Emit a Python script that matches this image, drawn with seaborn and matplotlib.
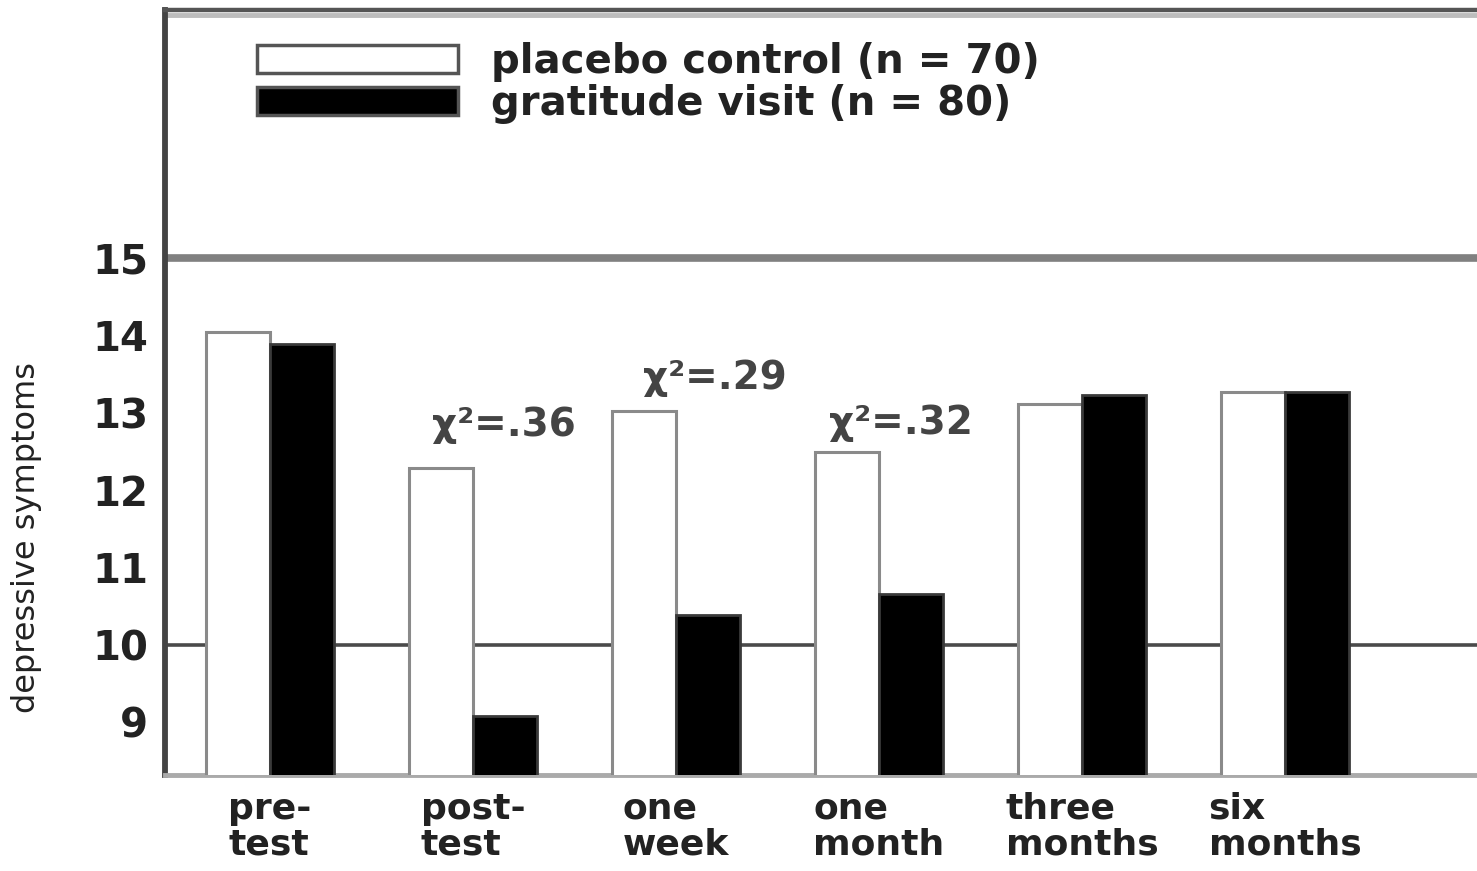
import matplotlib
matplotlib.use("Agg")
import matplotlib.pyplot as plt
import seaborn as sns
import pandas as pd
from matplotlib.patches import Patch

# ---- data ----
timepoints = ["pre-\ntest", "post-\ntest", "one\nweek", "one\nmonth", "three\nmonths", "six\nmonths"]
groups = ["placebo control (n = 70)", "gratitude visit (n = 80)"]
placebo = [14.04, 12.29, 13.02, 12.49, 13.11, 13.27]
gratitude = [13.88, 9.08, 10.39, 10.66, 13.23, 13.27]
annot_text = ["χ²=.36", "χ²=.29", "χ²=.32"]
annot_x = [1.15, 2.19, 3.11]
annot_y = [12.84, 13.45, 12.87]
yticks = [9, 10, 11, 12, 13, 14, 15]
gridlines = [10, 15]

df = pd.DataFrame({
    "time": timepoints * 2,
    "group": [groups[0]] * len(timepoints) + [groups[1]] * len(timepoints),
    "value": placebo + gratitude,
})

sns.set_theme(style="white")
plt.rcParams['font.family'] = ['DejaVu Sans']

fig = plt.figure(figsize=(14.77, 8.71), dpi=100)
ax = fig.add_axes([165/1477, (871-775)/871, (1477-165)/1477, (775-10)/871])

sns.barplot(data=df, x="time", y="value", hue="group", order=timepoints,
            hue_order=groups, palette=["white", "black"], width=0.63, gap=0,
            saturation=1, ax=ax, legend=False, zorder=3, errorbar=None)

# bar edges
n = len(timepoints)
for i, p in enumerate(ax.patches):
    if i < n:
        p.set_edgecolor("#8a8a8a")
        p.set_linewidth(2.2)
    else:
        p.set_edgecolor("#3a3a3a")
        p.set_linewidth(2.0)

ax.set_xlim(-0.517, 5.946)
ax.set_ylim(8.32, 18.2)
ax.set_yticks(yticks)
ax.set_yticklabels([str(t) for t in yticks], fontsize=29, fontweight="bold", color="#222222")
ax.tick_params(axis="y", length=0, pad=12)
ax.tick_params(axis="x", length=0, pad=12)
for lbl in ax.get_xticklabels():
    lbl.set_fontsize(26)
    lbl.set_fontweight("bold")
    lbl.set_color("#222222")
    lbl.set_multialignment("left")
    lbl.set_linespacing(1.08)

# horizontal reference lines
ax.axhline(gridlines[0], color="#4a4a4a", lw=2.6, zorder=1)
ax.axhline(gridlines[1], color="#808080", lw=5.5, zorder=1)

# spines
ax.spines["right"].set_visible(False)
ax.spines["left"].set_color("#444444")
ax.spines["left"].set_linewidth(4.2)
ax.spines["bottom"].set_color("#aaaaaa")
ax.spines["bottom"].set_linewidth(3.5)
ax.spines["top"].set_color("#555555")
ax.spines["top"].set_linewidth(3.2)
ax.plot([0, 1], [0.993, 0.993], transform=ax.transAxes, color="#bdbdbd", lw=3.5, zorder=2)

ax.set_xlabel("")
ax.set_ylabel("depressive symptoms", fontsize=23,
              family=["DejaVu Sans Condensed", "Liberation Sans Narrow", "DejaVu Sans"],
              color="#222222")
ax.yaxis.set_label_coords(-0.094, 0.31)

for t, x, y in zip(annot_text, annot_x, annot_y):
    ax.text(x, y, t, fontsize=28, fontweight="bold", ha="center", va="center",
            color="#444444", zorder=4)

handles = [Patch(facecolor="white", edgecolor="#555555", linewidth=2.5),
           Patch(facecolor="black", edgecolor="#555555", linewidth=2.5)]
fig.legend(handles, groups, loc="upper left", bbox_to_anchor=(257/1477, 1 - 42/871),
           frameon=False, prop={"size": 29, "weight": "bold"}, labelcolor="#222222",
           handlelength=5.0, handleheight=0.72,
           handletextpad=0.8, labelspacing=0.05, borderpad=0, borderaxespad=0)

fig.savefig("out.png", dpi=100)
